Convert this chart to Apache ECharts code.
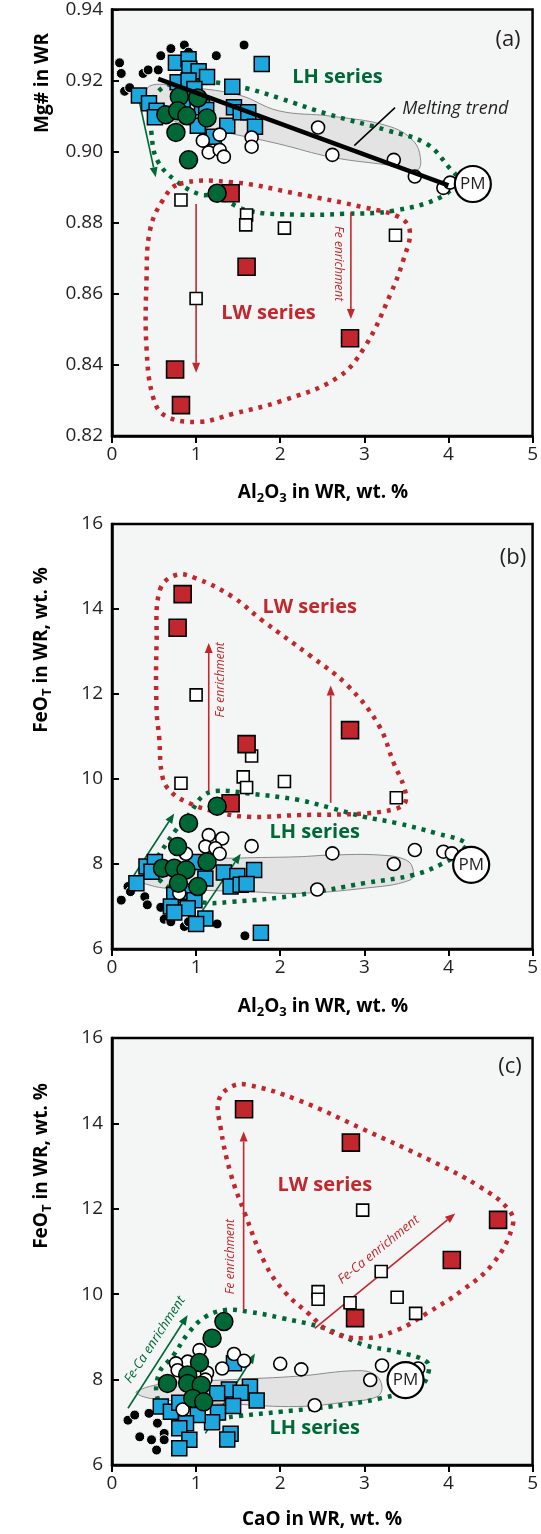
<!DOCTYPE html>
<html>
<head>
<meta charset="utf-8">
<script src="https://cdn.jsdelivr.net/npm/echarts@6/dist/echarts.min.js"></script>
<style>
  html, body { margin: 0; background: #fff; }
  #chart { width: 541px; height: 1534px; }
</style>
</head>
<body>
<div id="chart"></div>
<script>
// ---- panel (a): Al2O3 vs Mg#
const aBlack = [[0.09, 0.925], [0.11, 0.922], [0.15, 0.917], [0.21, 0.918], [0.37, 0.922], [0.43, 0.923], [0.55, 0.923], [0.58, 0.927], [0.70, 0.929], [0.86, 0.930], [0.91, 0.928], [1.24, 0.927], [1.57, 0.930]]
const aBlue = [[0.76, 0.925], [0.91, 0.926], [0.92, 0.9233], [1.03, 0.9226], [1.13, 0.921], [0.78, 0.9195], [0.91, 0.920], [0.32, 0.9158], [0.44, 0.9136], [0.53, 0.9115], [0.51, 0.9097], [1.07, 0.9125], [1.12, 0.9117], [1.02, 0.9073], [1.21, 0.9042], [1.37, 0.9073], [1.43, 0.9183], [1.45, 0.9125], [1.53, 0.9111], [1.62, 0.9111], [1.70, 0.907], [1.78, 0.9247], [0.84, 0.9127], [0.98, 0.9176]]
const aWhite = [[1.08, 0.9031], [1.28, 0.9048], [1.15, 0.8998], [1.28, 0.9005], [1.33, 0.8986], [1.66, 0.904], [1.66, 0.9014], [2.45, 0.9068], [2.62, 0.8991], [3.35, 0.8977], [3.60, 0.893], [3.94, 0.8898], [4.02, 0.8913]]
const aOpenSq = [[0.82, 0.8864], [1.60, 0.8822], [1.59, 0.8794], [2.05, 0.8785], [3.37, 0.8765], [1.00, 0.8587]]
const aRed = [[1.41, 0.8883], [1.60, 0.8676], [2.83, 0.8475], [0.75, 0.8387], [0.82, 0.8287]]
const aGreen = [[0.80, 0.9155], [1.02, 0.9151], [0.64, 0.9104], [0.78, 0.9115], [0.89, 0.9101], [1.13, 0.9095], [0.76, 0.9054], [0.91, 0.8977], [1.25, 0.8883]]
const aPM = [[4.29, 0.8909]]
const aTrend = [[0.55, 0.9205], [4.0, 0.8905]]

// ---- panel (b): Al2O3 vs FeOT
const bBlack = [[0.19, 7.47], [0.22, 7.35], [0.11, 7.15], [0.39, 7.23], [0.42, 7.04], [0.58, 6.98], [0.62, 6.70], [0.70, 6.64], [0.86, 6.53], [0.91, 6.64], [1.25, 6.59], [1.58, 6.31]]
const bBlue = [[0.29, 7.55], [0.41, 7.94], [0.51, 8.05], [0.47, 7.82], [1.00, 8.05], [1.11, 7.66], [1.33, 7.80], [1.49, 7.72], [1.69, 7.86], [1.41, 7.47], [1.53, 7.51], [1.60, 7.53], [0.74, 7.27], [0.90, 7.35], [0.98, 7.15], [0.70, 7.00], [0.90, 6.96], [0.74, 6.86], [1.11, 6.72], [1.00, 6.59], [1.77, 6.38]]
const bWhite = [[1.15, 8.68], [1.31, 8.60], [1.11, 8.41], [1.23, 8.37], [1.28, 8.24], [0.88, 8.24], [1.66, 8.42], [0.80, 7.31], [2.44, 7.40], [2.62, 8.25], [3.35, 8.00], [3.60, 8.33], [3.94, 8.29], [4.04, 8.25]]
const bOpenSq = [[1.00, 11.98], [1.66, 10.54], [0.82, 9.90], [1.56, 10.05], [1.60, 9.80], [2.05, 9.94], [3.38, 9.56]]
const bRed = [[0.84, 14.35], [0.78, 13.56], [1.60, 10.82], [1.41, 9.43], [2.83, 11.15]]
const bGreen = [[0.91, 8.96], [0.78, 8.41], [0.60, 7.90], [0.74, 7.90], [0.88, 7.86], [1.13, 8.05], [0.79, 7.55], [1.02, 7.47], [1.25, 9.36]]
const bPM = [[4.27, 7.98]]

// ---- panel (c): CaO vs FeOT
const cBlack = [[0.19, 7.05], [0.27, 7.17], [0.44, 7.21], [0.54, 6.98], [0.33, 6.66], [0.47, 6.59], [0.62, 6.74], [0.62, 6.59], [0.53, 6.35]]
const cBlue = [[1.45, 8.38], [1.64, 7.83], [1.39, 7.77], [1.53, 7.69], [1.72, 7.51], [1.25, 7.68], [1.26, 7.23], [1.19, 7.00], [1.44, 7.38], [1.02, 7.17], [0.58, 7.37], [0.70, 7.25], [0.80, 7.46], [0.88, 6.98], [0.80, 6.86], [0.92, 6.59], [0.80, 6.39], [1.41, 6.73], [1.37, 6.60]]
const cWhite = [[1.04, 8.69], [0.90, 8.42], [0.76, 8.38], [0.78, 8.22], [1.13, 8.16], [1.11, 8.00], [1.45, 8.60], [1.57, 8.44], [1.31, 8.26], [2.00, 8.37], [2.25, 8.24], [2.41, 7.40], [0.84, 7.30], [3.21, 8.33], [3.07, 7.99], [3.64, 8.26]]
const cOpenSq = [[2.98, 11.97], [3.20, 10.53], [2.45, 10.06], [2.45, 9.88], [2.83, 9.80], [3.39, 9.93], [3.61, 9.55]]
const cRed = [[1.57, 14.33], [2.84, 13.55], [4.59, 11.74], [4.04, 10.80], [2.89, 9.44]]
const cGreen = [[1.33, 9.36], [1.19, 8.97], [1.04, 8.40], [0.90, 8.11], [0.66, 7.91], [0.90, 7.91], [1.06, 7.87], [0.96, 7.56], [1.09, 7.48]]
const cPM = [[3.49, 7.99]]

// outlines (data units)
const aGray = [[0.45, 0.9185], [0.8, 0.9183], [1.5, 0.9160], [1.98, 0.9115], [2.6, 0.9100], [3.27, 0.9073], [3.58, 0.9031], [3.67, 0.8975], [3.62, 0.8947], [3.35, 0.8960], [2.62, 0.8984], [1.98, 0.9022], [1.43, 0.905], [1.04, 0.9068], [0.6, 0.910], [0.42, 0.9145]]
const aLH = [[0.47, 0.912], [0.55, 0.917], [0.84, 0.920], [1.23, 0.9195], [1.62, 0.9177], [2.0, 0.9150], [2.56, 0.9106], [3.27, 0.906], [3.74, 0.9022], [4.01, 0.8955], [4.09, 0.8927], [3.94, 0.8876], [3.35, 0.8834], [2.76, 0.8825], [2.21, 0.8823], [1.62, 0.8834], [1.23, 0.8876], [1.04, 0.888], [0.76, 0.8918], [0.54, 0.8975], [0.47, 0.905]]
const aLW = [[0.80, 0.8909], [1.43, 0.8914], [2.21, 0.8881], [3.0, 0.8843], [3.42, 0.8815], [3.54, 0.8777], [3.47, 0.870], [3.31, 0.8599], [3.0, 0.8449], [2.68, 0.8364], [2.02, 0.8299], [1.43, 0.8262], [1.04, 0.824], [0.64, 0.8256], [0.49, 0.8308], [0.41, 0.8449], [0.41, 0.8637], [0.45, 0.8777], [0.60, 0.8862]]
const bGray = [[0.33, 7.62], [0.45, 7.79], [1.04, 8.09], [1.51, 8.14], [2.21, 8.17], [2.6, 8.21], [3.19, 8.21], [3.5, 8.09], [3.58, 7.86], [3.54, 7.62], [3.0, 7.43], [2.21, 7.31], [1.62, 7.35], [0.64, 7.43], [0.37, 7.55]]
const bLH = [[0.54, 8.17], [0.76, 8.8], [0.94, 9.23], [1.07, 9.58], [1.23, 9.72], [1.62, 9.66], [2.21, 9.51], [2.60, 9.32], [3.0, 9.11], [3.39, 8.96], [3.86, 8.72], [4.21, 8.49], [4.15, 8.30], [3.94, 8.02], [3.58, 7.74], [3.0, 7.55], [2.21, 7.27], [1.43, 7.11], [1.04, 7.11], [0.72, 7.39], [0.53, 7.70], [0.45, 7.94]]
const bLW = [[0.57, 14.45], [0.76, 14.8], [1.0, 14.72], [1.43, 14.29], [1.78, 13.74], [2.37, 12.88], [2.8, 12.2], [3.17, 11.27], [3.35, 10.37], [3.47, 9.82], [3.49, 9.47], [3.39, 9.31], [3.0, 9.19], [2.21, 9.15], [1.62, 9.11], [1.23, 9.23], [0.92, 9.43], [0.70, 9.70], [0.60, 10.05], [0.56, 11.0], [0.53, 11.62], [0.53, 13.19]]
const cGray = [[0.29, 7.72], [0.64, 7.91], [1.43, 8.0], [2.21, 8.08], [2.92, 8.21], [3.13, 8.11], [3.21, 7.83], [3.15, 7.60], [2.80, 7.48], [2.21, 7.37], [1.43, 7.43], [0.64, 7.52], [0.37, 7.60]]
const cLH = [[0.55, 7.52], [0.56, 8.15], [0.72, 8.54], [0.92, 9.12], [1.11, 9.47], [1.35, 9.63], [1.62, 9.59], [2.02, 9.44], [2.53, 9.20], [3.0, 8.81], [3.39, 8.65], [3.74, 8.42], [3.76, 8.15], [3.66, 7.84], [3.19, 7.56], [2.60, 7.37], [2.02, 7.25], [1.51, 7.15], [1.04, 7.05], [0.76, 7.17]]
const cLW = [[1.43, 14.87], [1.62, 14.9], [2.21, 14.55], [3.0, 13.85], [3.78, 13.14], [4.37, 12.52], [4.72, 11.97], [4.76, 11.58], [4.53, 10.72], [4.17, 10.10], [3.74, 9.55], [3.39, 9.16], [3.0, 8.97], [2.60, 9.12], [2.33, 9.56], [2.05, 10.06], [1.82, 10.72], [1.58, 11.89], [1.41, 12.83], [1.29, 13.92], [1.27, 14.55]]

const aArrowsGreen = [[[0.31, 0.9158], [0.52, 0.8928]]]
const aArrowsRed = [[[1.0, 0.8853], [1.0, 0.8378]], [[2.84, 0.8829], [2.84, 0.8529]]]
const bArrowsGreen = [[[0.25, 7.70], [0.74, 9.19]], [[1.04, 6.80], [1.53, 8.24]]]
const bArrowsRed = [[[1.15, 9.7], [1.15, 13.2]], [[2.60, 9.44], [2.60, 12.2]]]
const cArrowsGreen = [[[0.19, 7.33], [0.90, 9.51]], [[1.11, 6.74], [1.70, 8.61]]]
const cArrowsRed = [[[1.565, 9.63], [1.565, 13.81]], [[2.41, 9.20], [4.08, 11.89]]]

const RED = '#c1272d'
const GREEN = '#006837'
const BLUE = '#1ea7de'
const FONT = '"Open Sans", sans-serif'

const grids = [
  { left: 112, top: 9, width: 425, height: 427 },
  { left: 112, top: 524, width: 425, height: 425 },
  { left: 112, top: 1038, width: 425, height: 427 }
]

const chart = echarts.init(document.getElementById('chart'), null, { renderer: 'canvas' })

function xAxisCfg (i) {
  return {
    gridIndex: i,
    type: 'value',
    min: 0,
    max: 5,
    interval: 1,
    axisLine: { onZero: false, lineStyle: { color: '#000', width: 2.5 } },
    axisTick: { inside: false, length: 7, lineStyle: { color: '#000', width: 2 } },
    axisLabel: { fontSize: 19, color: '#231f20', fontFamily: FONT, margin: 9 },
    splitLine: { show: false }
  }
}

function yAxisCfg (i, min, max, interval, digits) {
  return {
    gridIndex: i,
    type: 'value',
    min,
    max,
    interval,
    axisLine: { onZero: false, lineStyle: { color: '#000', width: 2.5 } },
    axisTick: { inside: true, length: 7, lineStyle: { color: '#000', width: 2 } },
    axisLabel: { fontSize: 19, color: '#231f20', fontFamily: FONT, margin: 9, formatter: v => v.toFixed(digits) },
    splitLine: { show: false }
  }
}

function scatter (i, data, symbol, size, color, border, bw) {
  return {
    type: 'scatter',
    xAxisIndex: i,
    yAxisIndex: i,
    data,
    symbol,
    symbolSize: size,
    silent: true,
    itemStyle: { color, borderColor: border, borderWidth: bw, opacity: 1 }
  }
}

function shape (i, pts, style, smooth) {
  return {
    type: 'custom',
    xAxisIndex: i,
    yAxisIndex: i,
    silent: true,
    data: [pts[0]],
    renderItem: (params, api) => ({
      type: 'polygon',
      shape: { points: pts.map(p => api.coord(p)), smooth },
      style
    })
  }
}

function arrows (i, segs, color, width) {
  return {
    type: 'custom',
    xAxisIndex: i,
    yAxisIndex: i,
    silent: true,
    data: segs.map(s => s[1]),
    renderItem: (params, api) => {
      const s = segs[params.dataIndex]
      const p0 = api.coord(s[0])
      const p1 = api.coord(s[1])
      const ang = Math.atan2(p1[1] - p0[1], p1[0] - p0[0])
      const L = 10
      const W = 4
      const bx = p1[0] - L * Math.cos(ang)
      const by = p1[1] - L * Math.sin(ang)
      return {
        type: 'group',
        children: [
          { type: 'line', shape: { x1: p0[0], y1: p0[1], x2: bx, y2: by }, style: { stroke: color, lineWidth: width } },
          {
            type: 'polygon',
            shape: { points: [p1, [bx + W * Math.sin(ang), by - W * Math.cos(ang)], [bx - W * Math.sin(ang), by + W * Math.cos(ang)]] },
            style: { fill: color }
          }
        ]
      }
    }
  }
}

function texts (i, items) {
  return {
    type: 'custom',
    xAxisIndex: i,
    yAxisIndex: i,
    silent: true,
    data: items.map(t => t.at),
    renderItem: (params, api) => {
      const t = items[params.dataIndex]
      const p = api.coord(t.at)
      return {
        type: 'text',
        x: p[0],
        y: p[1],
        rotation: t.rot || 0,
        style: {
          text: t.text,
          fill: t.color,
          font: t.font,
          align: t.align || 'center',
          verticalAlign: 'middle'
        }
      }
    }
  }
}

function pmSeries (i, data) {
  return {
    type: 'scatter',
    xAxisIndex: i,
    yAxisIndex: i,
    data,
    symbol: 'circle',
    symbolSize: 36,
    silent: true,
    itemStyle: { color: '#fff', borderColor: '#000', borderWidth: 2.2, opacity: 1 },
    label: { show: true, position: 'inside', formatter: 'PM', fontSize: 17, color: '#231f20', fontFamily: FONT }
  }
}

function points (i, black, blue, white, openSq, red, green, pm) {
  return [
    scatter(i, black, 'circle', 10, '#000', '#fff', 1),
    scatter(i, blue, 'rect', 15, BLUE, '#000', 1.5),
    scatter(i, white, 'circle', 13, '#fff', '#000', 1.6),
    scatter(i, openSq, 'rect', 12, '#fff', '#000', 1.6),
    scatter(i, red, 'rect', 17, RED, '#000', 1.6),
    scatter(i, green, 'circle', 18, GREEN, '#000', 1.5),
    pmSeries(i, pm)
  ]
}

const grayStyle = { fill: '#e3e3e3', stroke: '#8a8a8a', lineWidth: 1 }
const dotted = color => ({ fill: 'none', stroke: color, lineWidth: 4.5, lineDash: [4, 6] })
const big = 'bold 20px ' + FONT
const small = 'italic 12px ' + FONT

const series = [
  // (a)
  shape(0, aGray, grayStyle, 0.4),
  shape(0, aLH, dotted(GREEN), 0.4),
  shape(0, aLW, dotted(RED), 0.4),
  arrows(0, aArrowsGreen, GREEN, 1.6),
  arrows(0, aArrowsRed, RED, 1.6),
  {
    type: 'line', xAxisIndex: 0, yAxisIndex: 0, silent: true, data: aTrend,
    symbol: 'none', lineStyle: { color: '#000', width: 4.5 }
  },
  {
    type: 'line', xAxisIndex: 0, yAxisIndex: 0, silent: true, data: [[3.365, 0.9124], [2.88, 0.9017]],
    symbol: 'none', lineStyle: { color: '#000', width: 1.5 }
  },
  ...points(0, aBlack, aBlue, aWhite, aOpenSq, aRed, aGreen, aPM),
  texts(0, [
    { at: [2.68, 0.9209], text: 'LH series', color: GREEN, font: big },
    { at: [1.86, 0.8544], text: 'LW series', color: RED, font: big },
    { at: [3.45, 0.9121], text: 'Melting trend', color: '#231f20', font: 'italic 18px ' + FONT, align: 'left' },
    { at: [2.69, 0.8685], text: 'Fe enrichment', color: RED, font: small, rot: -Math.PI / 2 }
  ]),

  // (b)
  shape(1, bGray, grayStyle, 0.4),
  shape(1, bLH, dotted(GREEN), 0.4),
  shape(1, bLW, dotted(RED), 0.4),
  arrows(1, bArrowsGreen, GREEN, 1.6),
  arrows(1, bArrowsRed, RED, 1.6),
  ...points(1, bBlack, bBlue, bWhite, bOpenSq, bRed, bGreen, bPM),
  texts(1, [
    { at: [2.41, 8.74], text: 'LH series', color: GREEN, font: big },
    { at: [2.35, 14.05], text: 'LW series', color: RED, font: big },
    { at: [1.29, 12.33], text: 'Fe enrichment', color: RED, font: small, rot: Math.PI / 2 }
  ]),

  // (c)
  shape(2, cGray, grayStyle, 0.4),
  shape(2, cLH, dotted(GREEN), 0.4),
  shape(2, cLW, dotted(RED), 0.4),
  arrows(2, cArrowsGreen, GREEN, 1.6),
  arrows(2, cArrowsRed, RED, 1.6),
  ...points(2, cBlack, cBlue, cWhite, cOpenSq, cRed, cGreen, cPM),
  texts(2, [
    { at: [2.41, 6.86], text: 'LH series', color: GREEN, font: big },
    { at: [2.53, 12.56], text: 'LW series', color: RED, font: big },
    { at: [1.41, 10.88], text: 'Fe enrichment', color: RED, font: small, rot: Math.PI / 2 },
    { at: [3.17, 11.04], text: 'Fe-Ca enrichment', color: RED, font: 'italic 13px ' + FONT, rot: 0.68 },
    { at: [0.51, 8.93], text: 'Fe-Ca enrichment', color: GREEN, font: 'italic 13px ' + FONT, rot: 0.995 }
  ])
]

const nameRich = {
  m: { fontSize: 19, fontWeight: 'bold', fontFamily: FONT, color: '#000', lineHeight: 22, verticalAlign: 'top' },
  s: { fontSize: 13, fontWeight: 'bold', fontFamily: FONT, color: '#000', lineHeight: 14, verticalAlign: 'bottom' }
}

function axisName (x, y, text, rot) {
  return {
    type: 'text',
    x,
    y,
    rotation: rot || 0,
    style: { text, rich: nameRich, align: 'center', verticalAlign: 'middle' }
  }
}

function panelLabel (x, y, text) {
  return {
    type: 'text',
    x,
    y,
    style: { text, font: '22px ' + FONT, fill: '#231f20', align: 'center', verticalAlign: 'middle' }
  }
}

chart.setOption({
  animation: false,
  backgroundColor: '#fff',
  grid: grids.map(g => Object.assign({ show: true, backgroundColor: '#f4f6f6', borderColor: '#000', borderWidth: 2.5 }, g)),
  xAxis: [xAxisCfg(0), xAxisCfg(1), xAxisCfg(2)],
  yAxis: [yAxisCfg(0, 0.82, 0.94, 0.02, 2), yAxisCfg(1, 6, 16, 2, 0), yAxisCfg(2, 6, 16, 2, 0)],
  series,
  graphic: [
    axisName(44, 83, '{m|Mg# in WR}', Math.PI / 2),
    axisName(43, 650, '{m|FeO}{s|T}{m| in WR, wt. %}', Math.PI / 2),
    axisName(43, 1166, '{m|FeO}{s|T}{m| in WR, wt. %}', Math.PI / 2),
    axisName(323, 494, '{m|Al}{s|2}{m|O}{s|3}{m| in WR, wt. %}'),
    axisName(323, 1008, '{m|Al}{s|2}{m|O}{s|3}{m| in WR, wt. %}'),
    axisName(322, 1521, '{m|CaO in WR, wt. %}'),
    panelLabel(508, 40, '(a)'),
    panelLabel(513, 558, '(b)'),
    panelLabel(510, 1067, '(c)')
  ]
})
</script>
</body>
</html>
